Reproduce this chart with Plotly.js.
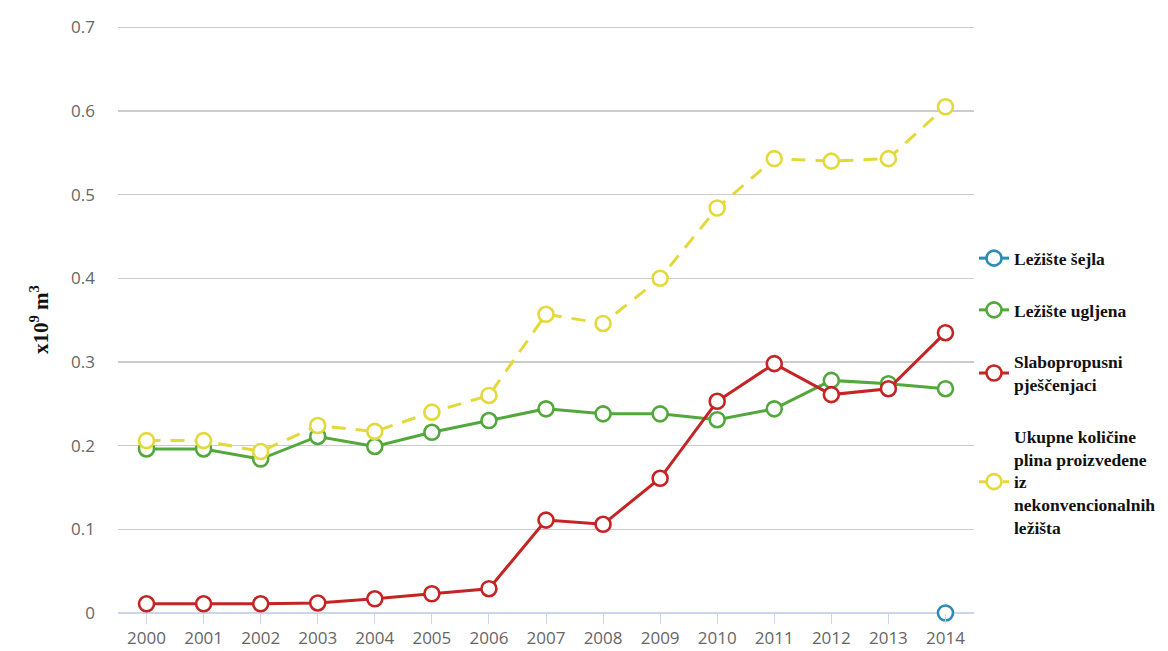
<!DOCTYPE html>
<html>
<head>
<meta charset="utf-8">
<script src="https://cdn.plot.ly/plotly-3.0.1.min.js"></script>
<style>html,body{margin:0;padding:0;background:#fff;}#chart{width:1168px;height:651px;}</style>
</head>
<body>
<div id="chart"></div>
<script>
const years = [2000,2001,2002,2003,2004,2005,2006,2007,2008,2009,2010,2011,2012,2013,2014];
const shaleYears = [2014];
const shale = [0.0];
const coal = [0.196,0.196,0.184,0.211,0.199,0.216,0.230,0.244,0.238,0.238,0.231,0.244,0.278,0.274,0.268];
const tight = [0.011,0.011,0.011,0.012,0.017,0.023,0.029,0.111,0.106,0.161,0.253,0.298,0.261,0.268,0.335];
const total = [0.206,0.206,0.193,0.224,0.217,0.240,0.260,0.357,0.346,0.400,0.484,0.543,0.540,0.543,0.605];
const names = ["Ležište šejla","Ležište ugljena","Slabopropusni<br>pješčenjaci","Ukupne količine<br>plina proizvedene<br>iz<br>nekonvencionalnih<br>ležišta"];
const yTicks = [0,0.1,0.2,0.3,0.4,0.5,0.6,0.7];
const yTickText = ["0","0.1","0.2","0.3","0.4","0.5","0.6","0.7"];

function mk(x,y,name,color,dash,grp){
  return {x:x,y:y,name:'<b>'+name.split('<br>').join('</b><br><b>')+'</b>',type:'scatter',mode:'lines+markers',
    legendgroup:grp,cliponaxis:false,
    line:{color:color,width:3,dash:dash||'solid'},
    marker:{symbol:'circle',size:15,color:'#ffffff',line:{color:color,width:2.6}}};
}
const data = [
  mk(shaleYears,shale,names[0],'#2b8db5','solid','g1'),
  mk(years,coal,names[1],'#52a83a','solid','g2'),
  mk(years,tight,names[2],'#c42424','solid','g3'),
  mk(years,total,names[3],'#e3d93a','14px,10px','g4')
];
const layout = {
  width:1168,height:651,
  margin:{l:118,r:194,t:26,b:38,autoexpand:false},
  paper_bgcolor:'#fff',plot_bgcolor:'#fff',
  showlegend:true,
  legend:{x:1.0,xanchor:'left',y:0.635,yanchor:'top',itemwidth:30,
    font:{family:'Liberation Serif',size:17.5,color:'#111'},tracegroupgap:26,
    bgcolor:'rgba(0,0,0,0)'},
  xaxis:{range:[1999.5,2014.5],tickvals:years,ticktext:years.map(String),
    showgrid:false,ticks:'outside',ticklen:10,tickcolor:'#ccd6eb',
    showline:false,zeroline:false,
    tickfont:{family:'Open Sans',size:17,color:'#666'}},
  yaxis:{range:[0,0.7015],tickvals:yTicks,ticktext:yTickText,
    showgrid:true,gridcolor:'#cccccc',gridwidth:1.5,
    zeroline:true,zerolinecolor:'#ccd6eb',zerolinewidth:1.5,
    ticks:'',ticklabelstandoff:22,
    tickfont:{family:'Open Sans',size:17,color:'#666'},
    title:{text:'<b>x10<sup>9</sup> m<sup>3</sup></b>',standoff:16,
      font:{family:'Liberation Serif',size:21,color:'#111'}}}
};
Plotly.newPlot('chart',data,layout,{displayModeBar:false,staticPlot:true});
</script>
</body>
</html>
